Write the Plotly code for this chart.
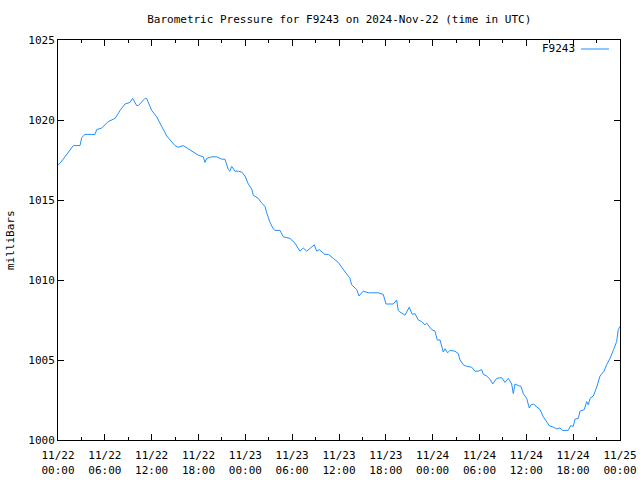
import pandas as pd
import plotly.graph_objects as go

start = "2024-11-22 00:00"
hours = [0.00, 0.26, 0.90, 1.54, 1.96, 2.82, 3.04, 3.46, 4.74, 4.96, 5.60, 6.44, 7.30, 7.72, 7.94,
         8.58, 9.22, 9.57, 10.08, 10.29, 11.15, 11.36, 12.00, 12.64, 13.28, 13.93, 14.99, 15.41,
         16.05, 16.69, 17.33, 17.97, 18.61, 18.83, 19.05, 19.69, 20.33, 20.97, 21.39, 21.82, 22.03,
         22.25, 22.68, 23.10, 23.53, 23.96, 24.38, 24.81, 25.02, 25.66, 26.10, 26.52, 26.74, 27.16,
         27.58, 27.80, 28.44, 28.86, 29.72, 30.36, 31.00, 31.42, 31.86, 32.50, 32.83, 33.14, 33.47,
         34.20, 34.63, 35.27, 35.91, 36.34, 36.89, 37.41, 37.62, 38.27, 38.56, 39.11, 39.75, 40.39,
         41.03, 41.67, 42.02, 42.95, 43.39, 43.59, 43.81, 44.45, 45.00, 45.38, 45.73, 46.16, 46.59,
         47.01, 47.23, 47.87, 48.30, 48.59, 48.94, 49.36, 49.58, 49.92, 50.22, 50.86, 51.28, 51.50,
         51.92, 52.36, 53.00, 53.42, 53.85, 54.28, 54.49, 54.92, 55.34, 55.69, 56.20, 56.84, 57.26,
         57.69, 58.12, 58.33, 58.55, 58.97, 59.32, 59.61, 60.04, 60.38, 60.59, 60.89, 61.32, 61.75,
         62.17, 62.61, 62.94, 63.45, 63.89, 64.31, 64.66, 65.37, 65.68, 66.01, 66.23, 66.66, 66.87,
         67.42, 67.73, 67.94, 68.16, 68.58, 69.01, 69.44, 69.95, 70.29, 70.72, 71.14, 71.57, 71.78,
         72.00]
pressure = [1017.2, 1017.3, 1017.7, 1018.1, 1018.4, 1018.4, 1018.9, 1019.1, 1019.1, 1019.4, 1019.5,
            1019.9, 1020.1, 1020.4, 1020.6, 1021.0, 1021.1, 1021.35, 1020.9, 1020.9, 1021.35, 1021.35,
            1020.6, 1020.2, 1019.6, 1019.0, 1018.4, 1018.3, 1018.4, 1018.2, 1018.0, 1017.8, 1017.7,
            1017.35, 1017.6, 1017.7, 1017.7, 1017.55, 1017.55, 1016.9, 1016.8, 1017.1, 1016.8, 1016.8,
            1016.75, 1016.5, 1016.0, 1015.7, 1015.3, 1015.1, 1014.8, 1014.6, 1014.2, 1013.6, 1013.2,
            1013.1, 1013.1, 1012.7, 1012.6, 1012.3, 1011.8, 1012.0, 1011.8, 1012.1, 1012.2, 1011.8,
            1011.9, 1011.6, 1011.6, 1011.35, 1011.1, 1010.8, 1010.4, 1010.1, 1009.7, 1009.4, 1009.0,
            1009.3, 1009.2, 1009.2, 1009.2, 1009.1, 1008.5, 1008.5, 1008.75, 1008.1, 1008.0, 1007.8,
            1008.3, 1007.85, 1007.9, 1007.5, 1007.4, 1007.2, 1007.3, 1006.9, 1006.8, 1006.25, 1006.25,
            1005.5, 1005.7, 1005.45, 1005.6, 1005.55, 1005.4, 1005.0, 1004.7, 1004.6, 1004.55, 1004.3,
            1004.3, 1004.4, 1004.1, 1004.0, 1003.8, 1003.5, 1003.85, 1003.9, 1003.6, 1003.85, 1003.5,
            1002.9, 1003.5, 1003.4, 1003.35, 1002.9, 1002.6, 1002.0, 1002.2, 1002.25, 1002.1, 1001.9,
            1001.45, 1001.1, 1000.9, 1000.8, 1000.7, 1000.75, 1000.6, 1000.6, 1000.9, 1000.85, 1001.3,
            1001.35, 1001.8, 1001.9, 1002.4, 1002.2, 1002.6, 1002.75, 1003.3, 1004.0, 1004.3, 1004.7,
            1005.1, 1005.6, 1006.15, 1006.9, 1007.1]

series_name = "F9243"
title_text = "Barometric Pressure for F9243 on 2024-Nov-22 (time in UTC)"
y_title = "milliBars"
y_ticks = [1000, 1005, 1010, 1015, 1020, 1025]

times = pd.Timestamp(start) + pd.to_timedelta(hours, unit="h")
x_ticks = pd.date_range(start, periods=13, freq="6h")
x_ticktext = [t.strftime("%m/%d<br>%H:%M") for t in x_ticks]

font = "DejaVu Sans Mono"
col = "#1e90ff"

fig = go.Figure()
fig.add_trace(go.Scatter(x=times, y=pressure, mode="lines", name=series_name,
                         line=dict(color=col, width=1), showlegend=False))

fig.update_layout(
    width=640, height=480,
    margin=dict(l=58, r=20, t=40, b=40),
    paper_bgcolor="white", plot_bgcolor="white",
    font=dict(family=font, size=11, color="black"),
    title=dict(text=title_text, x=0.53, xanchor="center", y=0.96, yanchor="middle",
               font=dict(family=font, size=11)),
    xaxis=dict(range=[x_ticks[0], x_ticks[-1]], tickvals=list(x_ticks), ticktext=x_ticktext,
               ticks="inside", ticklen=6, tickcolor="black", mirror="allticks", automargin=False,
               ticklabelstandoff=5,
               showline=True, linecolor="black", linewidth=1, showgrid=False, zeroline=False,
               minor=dict(ticks="inside", ticklen=3, dtick=3 * 3600 * 1000, tickcolor="black", showgrid=False)),
    yaxis=dict(range=[1000, 1025], tickvals=y_ticks, ticks="inside", ticklen=6, tickcolor="black",
               mirror="allticks", showline=True, linecolor="black", linewidth=1, automargin=False,
               showgrid=False, zeroline=False),
    annotations=[
        dict(text=y_title, xref="paper", yref="paper", x=-0.0854, y=0.5, textangle=-90,
             showarrow=False, xanchor="center", yanchor="middle", font=dict(family=font, size=11)),
        dict(text=series_name, xref="paper", yref="paper", x=0.9235, y=0.9775,
             showarrow=False, xanchor="right", yanchor="middle", font=dict(family=font, size=11)),
    ],
    shapes=[dict(type="line", xref="paper", yref="paper", x0=0.9306, x1=0.9804, y0=0.9775, y1=0.9775,
                 line=dict(color=col, width=1))],
)

fig.write_html("out.html")
